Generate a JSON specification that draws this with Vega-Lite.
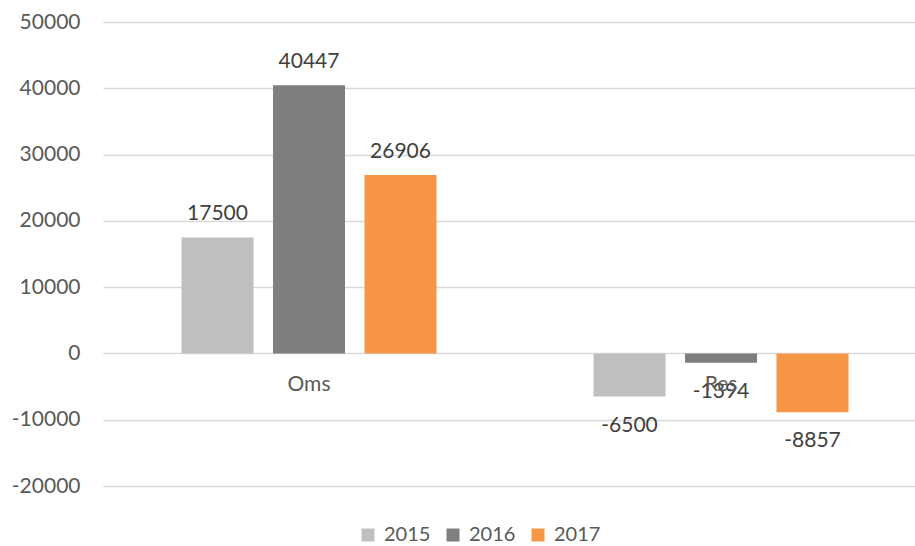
{
  "$schema": "https://vega.github.io/schema/vega-lite/v6.json",
  "width": 824,
  "height": 464,
  "autosize": {"type": "none"},
  "padding": {"left": 103, "top": 22, "right": 0, "bottom": 60},
  "background": "white",
  "config": {
    "view": {"stroke": null},
    "font": "Lato"
  },
  "data": {
    "values": [
      {"cat": "Oms", "year": "2015", "value": 17500},
      {"cat": "Oms", "year": "2016", "value": 40447},
      {"cat": "Oms", "year": "2017", "value": 26906},
      {"cat": "Res", "year": "2015", "value": -6500},
      {"cat": "Res", "year": "2016", "value": -1394},
      {"cat": "Res", "year": "2017", "value": -8857}
    ]
  },
  "transform": [{"calculate": "'' + datum.value", "as": "label"}],
  "encoding": {
    "x": {
      "field": "cat",
      "type": "nominal",
      "scale": {"paddingInner": 0, "paddingOuter": 0},
      "axis": null
    },
    "y": {
      "field": "value",
      "type": "quantitative",
      "scale": {"domain": [-20000, 50000], "nice": false, "zero": false},
      "axis": {
        "title": null,
        "values": [-20000, -10000, 0, 10000, 20000, 30000, 40000, 50000],
        "labelExpr": "'' + datum.value",
        "domain": false,
        "ticks": false,
        "labelPadding": 23,
        "labelFontSize": 21,
        "labelColor": "#595959",
        "gridColor": "#D9D9D9",
        "gridWidth": 1.3
      }
    }
  },
  "layer": [
    {
      "mark": {"type": "bar"},
      "encoding": {
        "xOffset": {
          "field": "year",
          "type": "nominal",
          "scale": {"paddingInner": 0.213, "paddingOuter": 0.858}
        },
        "color": {
          "field": "year",
          "type": "nominal",
          "scale": {"domain": ["2015", "2016", "2017"], "range": ["#BFBFBF", "#7F7F7F", "#F79646"]},
          "legend": {
            "title": null,
            "orient": "none",
            "direction": "horizontal",
            "legendX": 255,
            "legendY": 503,
            "symbolType": "square",
            "symbolSize": 169,
            "symbolStrokeWidth": 0,
            "labelFontSize": 20,
            "labelColor": "#595959",
            "labelOffset": 6,
            "columnPadding": 12
          }
        }
      }
    },
    {
      "transform": [{"filter": "datum.value >= 0"}],
      "mark": {"type": "text", "baseline": "alphabetic", "dy": -17, "fontSize": 21, "color": "#404040"},
      "encoding": {
        "xOffset": {"field": "year", "type": "nominal"},
        "text": {"field": "label", "type": "nominal"}
      }
    },
    {
      "transform": [{"filter": "datum.value < 0"}],
      "mark": {"type": "text", "baseline": "alphabetic", "dy": 35, "fontSize": 21, "color": "#404040"},
      "encoding": {
        "xOffset": {"field": "year", "type": "nominal"},
        "text": {"field": "label", "type": "nominal"}
      }
    },
    {
      "transform": [{"filter": "datum.year == '2016'"}],
      "mark": {"type": "text", "baseline": "alphabetic", "dy": 38, "fontSize": 21, "color": "#595959"},
      "encoding": {
        "y": {"datum": 0},
        "text": {"field": "cat", "type": "nominal"}
      }
    }
  ]
}
